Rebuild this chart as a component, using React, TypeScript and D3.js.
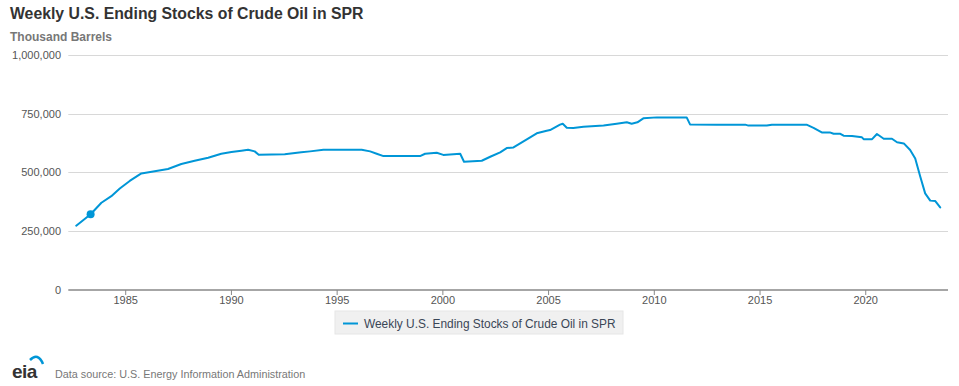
import React from "react";
import * as d3 from "d3";

const TITLE = "Weekly U.S. Ending Stocks of Crude Oil in SPR";
const UNITS = "Thousand Barrels";
const SOURCE = "Data source: U.S. Energy Information Administration";

// decimal years (weeks) and thousand barrels
const years = [
  1982.66, 1983.34, 1983.85, 1984.32, 1984.72, 1985.19, 1985.74, 1987.0, 1987.63, 1988.26,
  1988.9, 1989.52, 1990.0, 1990.47, 1990.79, 1991.1, 1991.29, 1992.52, 1993.3, 1993.72,
  1994.35, 1996.16, 1996.56, 1996.87, 1997.19, 1998.92, 1999.16, 1999.71, 2000.02, 2000.82,
  2001.0, 2001.84, 2002.24, 2002.71, 2003.02, 2003.34, 2003.97, 2004.44, 2004.91, 2005.07,
  2005.54, 2005.67, 2005.86, 2006.17, 2006.65, 2007.6, 2008.22, 2008.7, 2008.93, 2009.2,
  2009.48, 2010.12, 2011.53, 2011.69, 2012.96, 2014.3, 2014.45, 2015.32, 2015.56, 2017.2,
  2017.53, 2017.92, 2018.3, 2018.48, 2018.8, 2018.95, 2019.35, 2019.82, 2019.9, 2020.3,
  2020.53, 2020.85, 2021.24, 2021.48, 2021.8, 2022.1, 2022.34, 2022.58, 2022.81, 2023.05,
  2023.29, 2023.52,
];
const stocks = [
  272000, 321000, 370000, 398000, 431000, 463000, 495000, 514000, 535000, 549000,
  562000, 579000, 586000, 592000, 596000, 589000, 575000, 577000, 585000, 589000,
  596000, 596000, 589000, 579000, 569000, 569000, 579000, 583000, 574000, 579000,
  545000, 549000, 566000, 585000, 603000, 606000, 640000, 666000, 677000, 680000,
  703000, 707000, 690000, 689000, 694000, 699000, 707000, 713000, 707000, 713000,
  730000, 734000, 734000, 704000, 703000, 703000, 699000, 699000, 703000, 703000,
  689000, 670000, 670000, 664000, 664000, 656000, 655000, 649000, 641000, 641000,
  663000, 643000, 643000, 628000, 623000, 595000, 559000, 481000, 410000, 379000,
  377000, 350000,
];
const markerIndex = 1;

const yTicks = [0, 250000, 500000, 750000, 1000000];
const xTicks = [1985, 1990, 1995, 2000, 2005, 2010, 2015, 2020];

const BLUE = "#0096d7";

export default function App() {
  const W = 959, H = 386;
  const x = d3.scaleLinear().domain([1982.285, 2023.89]).range([68.3, 948]);
  const y = d3.scaleLinear().domain([0, 1000000]).range([289.5, 55]);
  const fmt = d3.format(",");
  const data = years.map((yr, i) => ({ yr, v: stocks[i] }));
  const line = d3
    .line<{ yr: number; v: number }>()
    .x((d) => x(d.yr))
    .y((d) => y(d.v));

  const font = "'Liberation Sans', Arial, Helvetica, sans-serif";

  return (
    <svg
      width={W}
      height={H}
      style={{ position: "absolute", left: 0, top: 0, display: "block", background: "#fff" }}
      fontFamily={font}
    >
      <text x={10} y={19} fontSize={15.8} fontWeight="bold" fill="#333">
        {TITLE}
      </text>
      <text x={10} y={41} fontSize={12} fontWeight="bold" fill="#777">
        {UNITS}
      </text>

      {yTicks.map((t) => (
        <g key={t}>
          {t > 0 && (
            <line x1={68.3} x2={948} y1={Math.round(y(t)) + 0.5} y2={Math.round(y(t)) + 0.5} stroke="#d8d8d8" strokeWidth={1} />
          )}
          <text x={61} y={y(t) + 4} fontSize={11} fill="#555" textAnchor="end">
            {fmt(t)}
          </text>
        </g>
      ))}

      <line x1={68.3} x2={948} y1={290} y2={290} stroke="#888" strokeWidth={1.5} />
      {xTicks.map((t) => (
        <g key={t}>
          <line x1={x(t)} x2={x(t)} y1={290} y2={295} stroke="#888" strokeWidth={1} />
          <text x={x(t)} y={304} fontSize={11} fill="#555" textAnchor="middle">
            {t}
          </text>
        </g>
      ))}

      <path d={line(data) || ""} fill="none" stroke={BLUE} strokeWidth={2} strokeLinejoin="round" strokeLinecap="round" />
      <circle cx={x(years[markerIndex])} cy={y(stocks[markerIndex])} r={4} fill={BLUE} />

      <rect x={335} y={311} width={288} height={23} fill="#f0f0f0" stroke="#e6e6e6" />
      <line x1={343} x2={358} y1={323.5} y2={323.5} stroke={BLUE} strokeWidth={2} />
      <text x={364} y={327.5} fontSize={11.9} fill="#3a4656">
        {TITLE}
      </text>

      <path d="M 30 360 Q 38 352 43 364" fill="none" stroke={BLUE} strokeWidth={2.5} />
      <text x={12} y={378} fontSize={19} fontWeight="bold" fill="#333" letterSpacing={-0.5}>
        eia
      </text>
      <text x={55} y={378} fontSize={10.8} fill="#777">
        {SOURCE}
      </text>
    </svg>
  );
}
